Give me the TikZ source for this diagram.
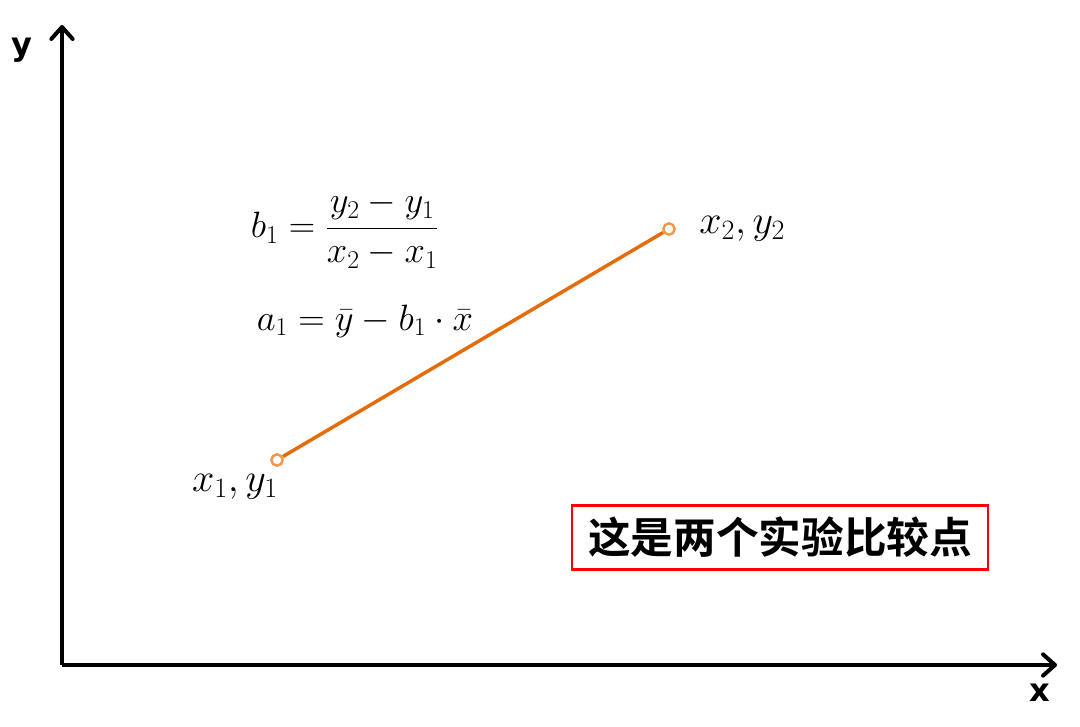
\RequirePackage{fix-cm}
\documentclass[tikz,border=0pt]{standalone}
\usepackage{amsmath}
\usepackage{fontspec}
\setsansfont{DejaVu Sans}
\newfontfamily\cjk{Noto Sans CJK SC}[BoldFont={Noto Sans CJK SC Bold}]
\usepackage{tikz}
\usetikzlibrary{arrows.meta,positioning}

\definecolor{lineorange}{RGB}{228,108,10}
\definecolor{dotorange}{RGB}{247,150,70}
\definecolor{boxred}{RGB}{255,0,0}

\begin{document}
\begin{tikzpicture}[x=0.75pt,y=-0.75pt,
                    axis/.style={line width=3pt,-{Straight Barb[length=9pt,width=16pt,round]}},
                    endpt/.style={circle,draw=dotorange,fill=white,line width=1.8pt,
                                  inner sep=0pt,minimum size=8.5pt},
                    mathlbl/.style={font=\fontsize{30}{34}\selectfont},
                    formula/.style={font=\fontsize{27.5}{32}\selectfont},
                    axlbl/.style={font=\sffamily\bfseries\fontsize{24}{26}\selectfont}]
  \useasboundingbox (0,0) rectangle (1080,727);
  \coordinate (o)    at (62,665);
  \coordinate (xend) at (1057,665);
  \coordinate (yend) at (62,25);
  \draw[axis] (o) -- (yend);
  \draw[axis] (o) -- (xend);
  \node[axlbl] (ylbl) at (22,50)   {y};
  \node[axlbl] (xlbl) at (1040,693) {x};

  \node[endpt] (p1) at (277,460) {};
  \node[endpt] (p2) at (669,229) {};
  \draw[lineorange,line width=2.6pt] (p1) -- (p2);
  \node[mathlbl] (l1) at (235,487) {$x_1,y_1$};
  \node[mathlbl,right=14pt of p2] (l2) {$x_2,y_2$};

  \node[formula] (fb) at (345,230) {$b_1=\dfrac{y_2-y_1}{x_2-x_1}$};
  \node[formula] (fa) at (365,321) {$a_1=\bar{y}-b_1\cdot\bar{x}$};

  \node[draw=boxred,line width=2.2pt,minimum width=312pt,minimum height=48pt,
        font=\cjk\bfseries\fontsize{32}{35}\selectfont] (note) at (780,537.5) {这是两个实验比较点};
\end{tikzpicture}
\end{document}
